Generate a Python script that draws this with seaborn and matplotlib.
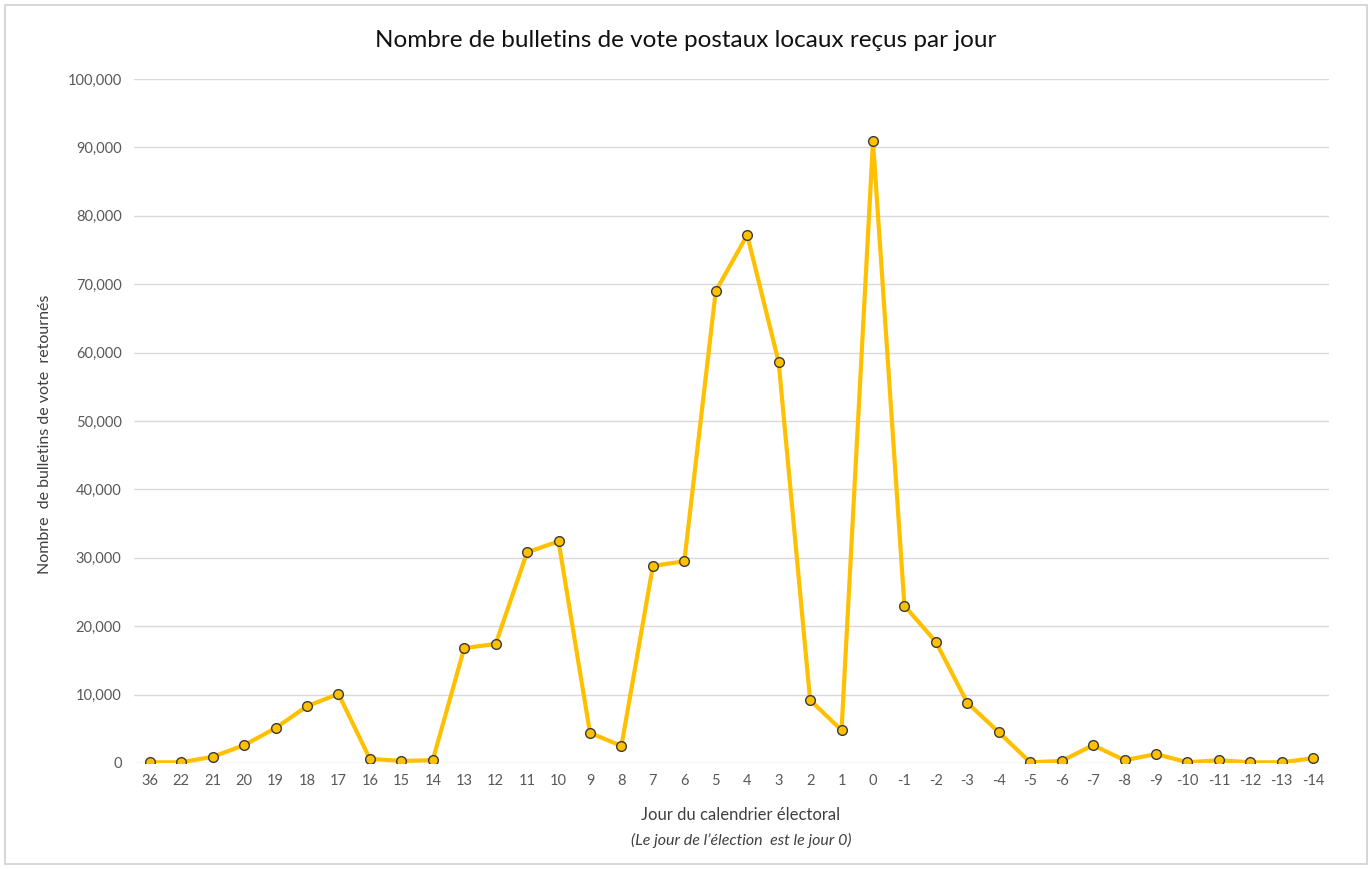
import matplotlib
matplotlib.use("Agg")
import matplotlib.pyplot as plt
import seaborn as sns
import pandas as pd
from matplotlib.ticker import FuncFormatter, MultipleLocator
from matplotlib.patches import Rectangle

days = ["36", "22", "21", "20", "19", "18", "17", "16", "15", "14", "13", "12",
        "11", "10", "9", "8", "7", "6", "5", "4", "3", "2", "1", "0",
        "-1", "-2", "-3", "-4", "-5", "-6", "-7", "-8", "-9", "-10", "-11",
        "-12", "-13", "-14"]
ballots = [100, 100, 900, 2600, 5100, 8300, 10100, 600, 300, 400, 16800, 17400,
           30800, 32400, 4400, 2500, 28800, 29500, 69000, 77200, 58600, 9200, 4800, 90900,
           23000, 17700, 8800, 4500, 100, 300, 2600, 400, 1300, 100, 400,
           100, 100, 700]

title = "Nombre de bulletins de vote postaux locaux reçus par jour"
xlabel1 = "Jour du calendrier électoral"
xlabel2 = "(Le jour de l’élection  est le jour 0)"
ylabel = "Nombre  de bulletins de vote  retournés"

df = pd.DataFrame({"day": days, "ballots": ballots})

sns.set_theme(style="white")
plt.rcParams["font.family"] = ["Lato", "DejaVu Sans"]

fig = plt.figure(figsize=(13.72, 8.69), dpi=100)
ax = fig.add_axes([0.0977, 0.122, 0.8709, 0.787])

sns.pointplot(data=df, x="day", y="ballots", order=days, ax=ax,
              color="#FFC000", linewidth=3.0, markers="o",
              markersize=7, markeredgecolor="#3a3a3a", markeredgewidth=1.0,
              errorbar=None)

ax.set_ylim(0, 100000)
ax.set_xlim(-0.5, len(days) - 0.5)
ax.yaxis.set_major_locator(MultipleLocator(10000))
ax.yaxis.set_major_formatter(FuncFormatter(lambda v, p: f"{int(v):,}"))
ax.grid(axis="y", color="#d9d9d9", linewidth=1.0)
ax.set_axisbelow(True)
for s in ax.spines.values():
    s.set_visible(False)
ax.tick_params(axis="both", colors="#595959", labelsize=10.5, length=0, pad=8)
ax.tick_params(axis="y", pad=9)
ax.set_xlabel("")
ax.set_ylabel("")

fig.text(0.5, 0.953, title, ha="center", va="center", fontsize=17.5, color="#111111")
fig.text(0.54, 0.062, xlabel1, ha="center", va="center", fontsize=12, color="#404040")
fig.text(0.54, 0.033, xlabel2, ha="center", va="center", fontsize=11.5,
         color="#404040", style="italic")
fig.text(0.033, 0.5, ylabel, ha="center", va="center", rotation=90,
         fontsize=11.5, color="#404040")

fig.patches.append(Rectangle((0.004, 0.006), 0.992, 0.988, transform=fig.transFigure,
                             fill=False, edgecolor="#d0d0d0", linewidth=1.2))

fig.savefig("out.png", dpi=100, facecolor="white")
